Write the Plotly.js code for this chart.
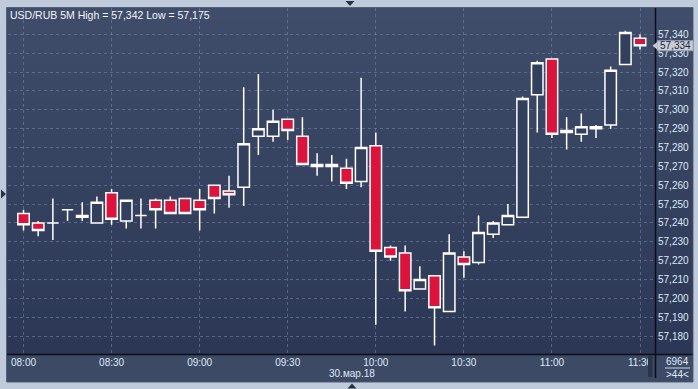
<!DOCTYPE html>
<html>
<head>
<meta charset="utf-8">
<script src="https://cdn.plot.ly/plotly-3.0.1.min.js"></script>
<style>html,body{margin:0;padding:0;background:#bfcbda;}#chart{width:698px;height:389px;}</style>
</head>
<body>
<div id="chart"></div>
<script>
// ---- data (USD/RUB, 5-minute candles, 30.03.2018) ----
const times = [
 "2018-03-30 08:00","2018-03-30 08:05","2018-03-30 08:10","2018-03-30 08:15","2018-03-30 08:20","2018-03-30 08:25",
 "2018-03-30 08:30","2018-03-30 08:35","2018-03-30 08:40","2018-03-30 08:45","2018-03-30 08:50","2018-03-30 08:55",
 "2018-03-30 09:00","2018-03-30 09:05","2018-03-30 09:10","2018-03-30 09:15","2018-03-30 09:20","2018-03-30 09:25",
 "2018-03-30 09:30","2018-03-30 09:35","2018-03-30 09:40","2018-03-30 09:45","2018-03-30 09:50","2018-03-30 09:55",
 "2018-03-30 10:00","2018-03-30 10:05","2018-03-30 10:10","2018-03-30 10:15","2018-03-30 10:20","2018-03-30 10:25",
 "2018-03-30 10:30","2018-03-30 10:35","2018-03-30 10:40","2018-03-30 10:45","2018-03-30 10:50","2018-03-30 10:55",
 "2018-03-30 11:00","2018-03-30 11:05","2018-03-30 11:10","2018-03-30 11:15","2018-03-30 11:20","2018-03-30 11:25",
 "2018-03-30 11:30"];
const opens = [57.245,57.240,57.240,57.247,57.243,57.240, 57.256,57.241,57.244,57.252,57.252,57.253,
 57.252,57.260,57.257,57.259,57.286,57.286, 57.295,57.286,57.270,57.270,57.269,57.262,
 57.281,57.227,57.224,57.205,57.212,57.193, 57.222,57.219,57.234,57.239,57.243,57.308,
 57.327,57.289,57.287,57.290,57.292,57.324, 57.338];
const highs = [57.247,57.241,57.253,57.247,57.251,57.254, 57.258,57.252,57.253,57.253,57.254,57.253,
 57.258,57.260,57.265,57.312,57.319,57.300, 57.295,57.296,57.277,57.276,57.274,57.317,
 57.288,57.228,57.228,57.217,57.212,57.234, 57.225,57.244,57.241,57.250,57.307,57.326,
 57.327,57.296,57.298,57.292,57.323,57.342, 57.340];
const lows = [57.236,57.233,57.231,57.241,57.241,57.240, 57.239,57.237,57.237,57.237,57.245,57.245,
 57.236,57.245,57.248,57.249,57.276,57.283, 57.284,57.271,57.265,57.262,57.258,57.259,
 57.186,57.220,57.193,57.205,57.175,57.193, 57.211,57.218,57.232,57.239,57.243,57.288,
 57.285,57.279,57.283,57.285,57.290,57.324, 57.332];
const closes = [57.239,57.236,57.240,57.247,57.244,57.251, 57.242,57.252,57.244,57.247,57.245,57.245,
 57.247,57.253,57.255,57.282,57.290,57.294, 57.289,57.271,57.271,57.271,57.261,57.280,
 57.225,57.222,57.204,57.210,57.195,57.224, 57.218,57.235,57.240,57.244,57.306,57.325,
 57.287,57.288,57.291,57.291,57.321,57.341, 57.334];
const yTicks = [57.18,57.19,57.20,57.21,57.22,57.23,57.24,57.25,57.26,57.27,57.28,57.29,57.30,57.31,57.32,57.33,57.34];
const symbol = "USD/RUB";
const period = "5M";
const dateLabel = "30.мар.18";
const barsInfo = "6964";
const scrollInfo = ">44<";

// ---- layout helpers (pixel -> paper) ----
const W = 698, H = 389, L = 8, R = 655, T = 8, B = 354;
const YMIN = 57.1705, YMAX = 57.354;
const xp = px => (px - L) / (R - L);
const yp = py => (B - py) / (B - T);
const fmt = v => v.toFixed(3).replace('.', ',');

const shapes = [];
function rect(x0, y0, x1, y1, fill, line, layer) {
  shapes.push({type:'rect', xref:'paper', yref:'paper', x0:xp(x0), x1:xp(x1), y0:yp(y1), y1:yp(y0),
    fillcolor:fill, line:{width: line ? 1 : 0, color: line || 'rgba(0,0,0,0)'}, layer: layer || 'below'});
}
function tri(pts, fill, layer) {
  const d = 'M' + pts.map(p => xp(p[0]) + ',' + yp(p[1])).join('L') + 'Z';
  shapes.push({type:'path', xref:'paper', yref:'paper', path:d, fillcolor:fill, line:{width:0}, layer: layer || 'above'});
}
// outer dark panel with border
rect(6.5, 7.5, 693, 382, '#3b4864', '#56627a');
// gradient for plot + right axis panel
const gTop = [63, 77, 106], gBot = [43, 55, 85];
const nb = 30;
for (let i = 0; i < nb; i++) {
  const y0 = T + (B - T) * i / nb, y1 = T + (B - T) * (i + 1) / nb + 0.5;
  const t = (i + 0.5) / nb;
  const c = gTop.map((v, k) => Math.round(v + (gBot[k] - v) * t));
  rect(7, y0, 692.5, y1, 'rgb(' + c.join(',') + ')');
}
// bottom time panel
rect(7, B, 692.5, 381.5, '#3d4a66');
// separators
shapes.push({type:'line', xref:'paper', yref:'paper', x0:xp(7), x1:xp(692.5), y0:yp(B+0.5), y1:yp(B+0.5), line:{color:'#0b0e16', width:1.5}, layer:'above'});
shapes.push({type:'line', xref:'paper', yref:'paper', x0:xp(R+0.5), x1:xp(R+0.5), y0:yp(T), y1:yp(378), line:{color:'#0b0e16', width:1.5}, layer:'above'});
// scroll bar at the right of the time panel
rect(648, 356, 652.5, 377, '#2a3449', null, 'above');
// separator line in bottom-right info box
shapes.push({type:'line', xref:'paper', yref:'paper', x0:xp(665), x1:xp(690), y0:yp(368), y1:yp(368), line:{color:'#c8d4e6', width:1}, layer:'above'});
// scroll triangles
tri([[345.5,1],[354.5,1],[350,6]], '#2b3140');
tri([[1,189.5],[1,198.5],[6,194]], '#2b3140');
tri([[347.5,388.5],[356.5,388.5],[352,383.5]], '#2b3140');
// current price marker
const last = closes[closes.length - 1];
const yLastPx = B - (last - YMIN) / (YMAX - YMIN) * (B - T);
rect(657.5, yLastPx - 5, 693, yLastPx + 5, '#c9ced6', '#9aa3b2', 'above');
tri([[652.5, yLastPx], [657.5, yLastPx - 4], [657.5, yLastPx + 4]], '#c9ced6');

const trace = {
  type: 'candlestick',
  x: times, open: opens, high: highs, low: lows, close: closes,
  increasing: {line: {color: '#ffffff', width: 1.5}, fillcolor: '#33405d'},
  decreasing: {line: {color: '#ffffff', width: 1.5}, fillcolor: '#dc143c'},
  whiskerwidth: 0,
  hoverinfo: 'skip',
  showlegend: false
};

const gridCol = 'rgba(115,132,165,0.6)';
const layout = {
  width: W, height: H,
  margin: {l: L, r: W - R, t: T, b: H - B, pad: 0},
  paper_bgcolor: '#bfcbda',
  plot_bgcolor: 'rgba(0,0,0,0)',
  separators: ', ',
  boxgap: 0.22, boxgroupgap: 0,
  font: {family: 'Liberation Sans, Arial, sans-serif', size: 10, color: '#dfe8f6'},
  title: {text: symbol + ' ' + period + ' High = ' + fmt(Math.max(...highs)) + ' Low = ' + fmt(Math.min(...lows)),
    x: 10 / W, xref: 'container', xanchor: 'left', y: 1 - 15.5 / H, yref: 'container', yanchor: 'middle',
    font: {family: 'Liberation Sans, Arial, sans-serif', size: 10.5, color: '#f2f5fa'}},
  xaxis: {
    type: 'date', range: ['2018-03-30 07:54:43', '2018-03-30 11:35:06'],
    tickformat: '%H:%M', dtick: 1800000, tick0: '2018-03-30 08:00',
    showgrid: true, gridcolor: gridCol, griddash: '3px,3px', gridwidth: 1,
    zeroline: false, showline: false, ticks: '', ticklabelstandoff: 1,
    rangeslider: {visible: false}, fixedrange: true,
    tickfont: {size: 10, color: '#dfe8f6'}
  },
  yaxis: {
    side: 'right', range: [YMIN, YMAX], tickmode: 'array', tickvals: yTicks, tickformat: '.3f',
    showgrid: true, gridcolor: gridCol, griddash: '3px,3px', gridwidth: 1,
    zeroline: false, showline: false, ticks: '', ticklabelstandoff: 2, fixedrange: true,
    tickfont: {size: 10, color: '#dfe8f6'}
  },
  shapes: shapes,
  annotations: [
    {xref:'paper', yref:'paper', x: xp(352), y: yp(373), text: dateLabel, showarrow:false,
     font:{size:10, color:'#dfe8f6'}, xanchor:'center', yanchor:'middle'},
    {xref:'paper', yref:'paper', x: xp(675), y: yp(yLastPx), text: fmt(last), showarrow:false,
     font:{size:10, color:'#1c2440'}, xanchor:'center', yanchor:'middle', borderpad: 0},
    {xref:'paper', yref:'paper', x: xp(677), y: yp(361.5), text: barsInfo, showarrow:false,
     font:{size:10, color:'#dfe8f6'}, xanchor:'center', yanchor:'middle'},
    {xref:'paper', yref:'paper', x: xp(677), y: yp(374.5), text: scrollInfo.replace(/</g,'&lt;').replace(/>/g,'&gt;'), showarrow:false,
     font:{size:10, color:'#dfe8f6'}, xanchor:'center', yanchor:'middle'}
  ]
};

Plotly.newPlot('chart', [trace], layout, {staticPlot: true, displayModeBar: false});
</script>
</body>
</html>
